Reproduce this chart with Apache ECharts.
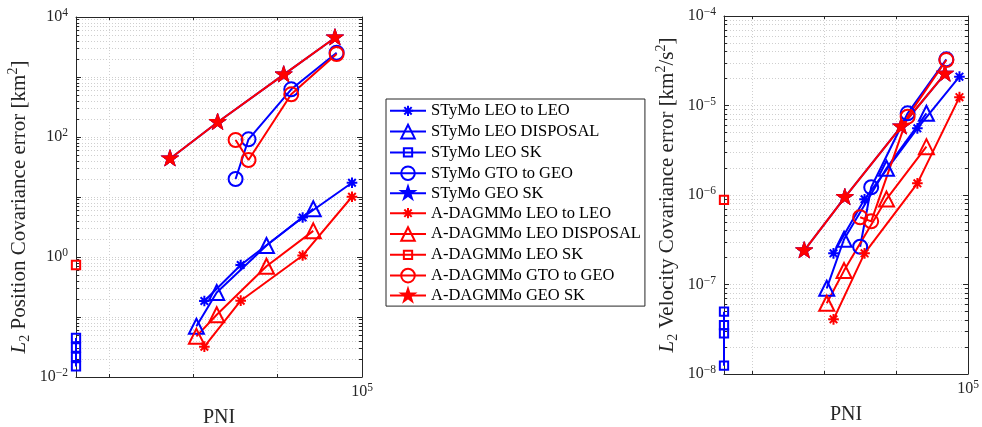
<!DOCTYPE html>
<html>
<head>
<meta charset="utf-8">
<script src="https://cdn.jsdelivr.net/npm/echarts@6/dist/echarts.min.js"></script>
<style>
  html, body { margin: 0; padding: 0; background: #fff; }
  #chart { width: 982px; height: 427px; }
</style>
</head>
<body>
<div id="chart"></div>
<script>
const seriesNames = [
  'STyMo LEO to LEO',
  'STyMo LEO DISPOSAL',
  'STyMo LEO SK',
  'STyMo GTO to GEO',
  'STyMo GEO SK',
  'A-DAGMMo LEO to LEO',
  'A-DAGMMo LEO DISPOSAL',
  'A-DAGMMo LEO SK',
  'A-DAGMMo GTO to GEO',
  'A-DAGMMo GEO SK',
]

// PNI (x), shared by both panels
const pniLeoToLeo = [34100, 43700, 66700, 93400]
const pniLeoDisposal = [32300, 37100, 52100, 71700]
const pniStymoLeoSk = [14200, 14200, 14200, 14200]
const pniDagmmoLeoSk = [14200]
const pniGtoToGeo = [42200, 46100, 61700, 84100]
const pniGeoSk = [26970, 37330, 58600, 83150]

// position covariance error [km^2]
const posStymoLeoToLeo = [0.185, 0.736, 4.55, 17.3]
const posStymoLeoDisposal = [0.07, 0.256, 1.555, 6.36]
const posStymoLeoSk = [0.0447, 0.031, 0.0216, 0.015]
const posStymoGtoToGeo = [19.95, 91.6, 624, 2541]
const posStymoGeoSk = [43.5, 176, 1093, 4520]
const posDagmmoLeoToLeo = [0.032, 0.187, 1.06, 10.1]
const posDagmmoLeoDisposal = [0.0476, 0.109, 0.7, 2.73]
const posDagmmoLeoSk = [0.736]
const posDagmmoGtoToGeo = [89.1, 41.4, 515, 2416]
const posDagmmoGeoSk = [43.5, 176, 1093, 4520]

// velocity covariance error [km^2/s^2]
const velStymoLeoToLeo = [2.23e-7, 8.96e-7, 5.56e-6, 2.1e-5]
const velStymoLeoDisposal = [9.07e-8, 3.2e-7, 1.99e-6, 8.18e-6]
const velStymoLeoSk = [4.97e-8, 3.52e-8, 2.85e-8, 1.24e-8]
const velStymoGtoToGeo = [2.64e-7, 1.22e-6, 8.18e-6, 3.28e-5]
const velStymoGeoSk = [2.39e-7, 9.4e-7, 5.79e-6, 2.25e-5]
const velDagmmoLeoToLeo = [4.08e-8, 2.23e-7, 1.35e-6, 1.24e-5]
const velDagmmoLeoDisposal = [6.17e-8, 1.43e-7, 9.0e-7, 3.47e-6]
const velDagmmoLeoSk = [8.8e-7]
const velDagmmoGtoToGeo = [5.64e-7, 5.08e-7, 7.5e-6, 3.22e-5]
const velDagmmoGeoSk = [2.39e-7, 9.4e-7, 5.79e-6, 2.25e-5]

const blue = '#0000ff'
const red = '#ff0000'
const axisColor = '#262626'
const serif = 'Liberation Serif'
const gridStyle = { color: '#cfcfcf', width: 1, type: [1, 2] }

// moveTo corners pad the box so the legend icon keeps the small size
const asteriskPath = 'path://M-10,-10M10,10M0,-7.6L0,7.6M-7.6,0L7.6,0M-5.4,-5.4L5.4,5.4M-5.4,5.4L5.4,-5.4'
const squarePath = 'path://M-10,-10M10,10M-6.1,-6.1L6.1,-6.1L6.1,6.1L-6.1,6.1Z'
const starPath = 'path://M-100,-100M100,100M0,-100L22.45,-30.9L95.1,-30.9L36.33,11.8L58.8,80.9L0,38.2L-58.8,80.9L-36.33,11.8L-95.1,-30.9L-22.45,-30.9Z'

const markerList = [
  { symbol: asteriskPath, size: 14, filled: false, width: 2 },
  { symbol: 'triangle', size: 15, filled: false, width: 2 },
  { symbol: squarePath, size: 13.6, filled: false, width: 2 },
  { symbol: 'circle', size: 14, filled: false, width: 2 },
  { symbol: starPath, size: 18, filled: true, width: 1 },
]

const powerRich = {
  b: { fontFamily: serif, fontSize: 16, lineHeight: 20, color: axisColor },
  s: { fontFamily: serif, fontSize: 11.5, lineHeight: 11, verticalAlign: 'top', color: axisColor },
}

const nameRich = {
  i: { fontFamily: serif, fontStyle: 'italic', fontSize: 21, lineHeight: 26, color: axisColor },
  sub: { fontFamily: serif, fontSize: 14, lineHeight: 16, verticalAlign: 'bottom', color: axisColor },
  sup: { fontFamily: serif, fontSize: 14, lineHeight: 16, verticalAlign: 'top', color: axisColor },
}

function powerLabel(step) {
  return (value) => {
    const lg = Math.log10(value)
    const e = Math.round(lg)
    if (Math.abs(lg - e) > 1e-6 || e % step !== 0) return ''
    return '{b|10}{s|' + (e < 0 ? '\u2212' + -e : e) + '}'
  }
}

function xAxisGene(gridIndex, isBottom) {
  return {
    type: 'log',
    logBase: Math.pow(10, 0.25),
    gridIndex,
    position: isBottom ? 'bottom' : 'top',
    min: 14200,
    max: 100000,
    axisLine: { show: true, onZero: false, lineStyle: { color: axisColor, width: 1 } },
    axisTick: { show: true, inside: true, length: 3, lineStyle: { color: axisColor } },
    axisLabel: isBottom
      ? { show: true, margin: 5, formatter: powerLabel(1), rich: powerRich, showMaxLabel: true }
      : { show: false },
    splitLine: { show: isBottom, lineStyle: gridStyle },
    name: isBottom ? 'PNI' : '',
    nameLocation: 'middle',
    nameGap: 31,
    nameTextStyle: { fontFamily: serif, fontSize: 20, color: axisColor },
  }
}

function yAxisGene(gridIndex, isLeft, min, max, step, name, padRight) {
  return {
    type: 'log',
    gridIndex,
    position: isLeft ? 'left' : 'right',
    min,
    max,
    axisLine: { show: true, onZero: false, lineStyle: { color: axisColor, width: 1 } },
    axisTick: { show: true, inside: true, length: 5, lineStyle: { color: axisColor } },
    minorTick: { show: true, splitNumber: 9, length: 3, lineStyle: { color: axisColor } },
    axisLabel: isLeft
      ? { show: true, margin: 8, formatter: powerLabel(step), rich: powerRich }
      : { show: false },
    splitLine: { show: isLeft, lineStyle: gridStyle },
    minorSplitLine: { show: isLeft, lineStyle: gridStyle },
    name: isLeft ? name : '',
    nameLocation: 'middle',
    nameRotate: 90,
    nameGap: 44,
    nameTextStyle: {
      fontFamily: serif,
      fontSize: 21,
      lineHeight: 26,
      color: axisColor,
      padding: [0, padRight, 0, 0],
      rich: nameRich,
    },
  }
}

function lineSeriesGene(name, xs, ys, color, marker, axisIndex) {
  return {
    name,
    type: 'line',
    xAxisIndex: axisIndex,
    yAxisIndex: axisIndex,
    data: xs.map((x, i) => [x, ys[i]]),
    symbol: marker.symbol,
    symbolSize: marker.size,
    showAllSymbol: true,
    clip: false,
    lineStyle: { color, width: 2 },
    itemStyle: {
      color: marker.filled ? color : 'none',
      borderColor: color,
      borderWidth: marker.width,
    },
    emphasis: { disabled: true },
  }
}

function panelSeries(axisIndex, stymoValues, dagmmoValues) {
  const xLists = [pniLeoToLeo, pniLeoDisposal, pniStymoLeoSk, pniGtoToGeo, pniGeoSk]
  const xDagmmo = [pniLeoToLeo, pniLeoDisposal, pniDagmmoLeoSk, pniGtoToGeo, pniGeoSk]
  const list = []
  stymoValues.forEach((ys, i) => {
    list.push(lineSeriesGene(seriesNames[i], xLists[i], ys, blue, markerList[i], axisIndex))
  })
  dagmmoValues.forEach((ys, i) => {
    list.push(lineSeriesGene(seriesNames[i + 5], xDagmmo[i], ys, red, markerList[i], axisIndex))
  })
  return list
}

const myChart = echarts.init(document.getElementById('chart'))
const option = {
  animation: false,
  backgroundColor: '#fff',
  grid: [
    { left: 76, top: 17, width: 286, height: 360, outerBoundsMode: 'none' },
    { left: 724, top: 16, width: 244, height: 358, outerBoundsMode: 'none' },
  ],
  xAxis: [xAxisGene(0, true), xAxisGene(1, true), xAxisGene(0, false), xAxisGene(1, false)],
  yAxis: [
    yAxisGene(0, true, 0.01, 10000, 2, '{i|L}{sub|2} Position Covariance error [km{sup|2}]', 20),
    yAxisGene(1, true, 1e-8, 1e-4, 1, '{i|L}{sub|2} Velocity Covariance error [km{sup|2}/s{sup|2}]', 0),
    yAxisGene(0, false, 0.01, 10000, 2, '', 0),
    yAxisGene(1, false, 1e-8, 1e-4, 1, '', 0),
  ],
  legend: {
    orient: 'vertical',
    left: 386,
    top: 99,
    padding: [2.5, 4, 2, 3],
    itemWidth: 36,
    itemHeight: 17,
    itemGap: 2.2,
    borderColor: axisColor,
    borderWidth: 1,
    backgroundColor: '#fff',
    selectedMode: false,
    textStyle: { fontFamily: serif, fontSize: 16.5, lineHeight: 17, color: '#000' },
    data: seriesNames,
  },
  series: [
    ...panelSeries(0,
      [posStymoLeoToLeo, posStymoLeoDisposal, posStymoLeoSk, posStymoGtoToGeo, posStymoGeoSk],
      [posDagmmoLeoToLeo, posDagmmoLeoDisposal, posDagmmoLeoSk, posDagmmoGtoToGeo, posDagmmoGeoSk]),
    ...panelSeries(1,
      [velStymoLeoToLeo, velStymoLeoDisposal, velStymoLeoSk, velStymoGtoToGeo, velStymoGeoSk],
      [velDagmmoLeoToLeo, velDagmmoLeoDisposal, velDagmmoLeoSk, velDagmmoGtoToGeo, velDagmmoGeoSk]),
  ],
}
myChart.setOption(option, true)
</script>
</body>
</html>
